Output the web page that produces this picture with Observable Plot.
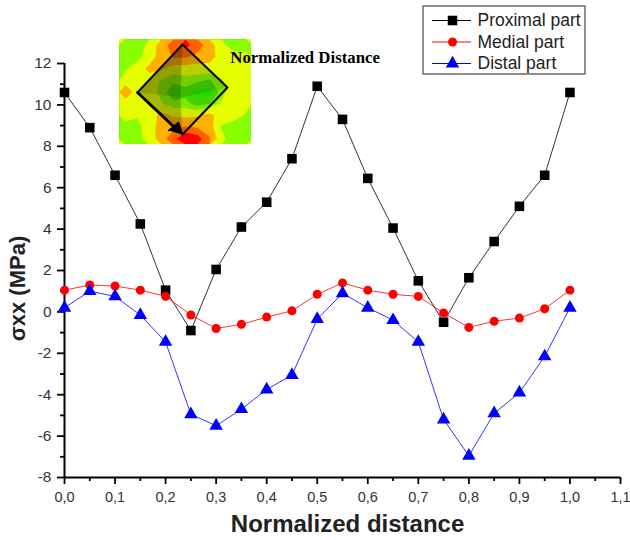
<!DOCTYPE html>
<html>
<head>
<meta charset="utf-8">
<script src="https://cdn.jsdelivr.net/npm/d3@7"></script>
<script src="https://cdn.jsdelivr.net/npm/@observablehq/plot@0.6"></script>
<style>
html,body{margin:0;padding:0;background:#fff;}
#wrap{position:relative;width:630px;height:540px;overflow:hidden;font-family:"Liberation Sans",Arial,sans-serif;}
#wrap svg{position:absolute;background:transparent;}
</style>
</head>
<body>
<div id="wrap"></div>
<script>
const distance = [0,0.05,0.1,0.15,0.2,0.25,0.3,0.35,0.4,0.45,0.5,0.55,0.6,0.65,0.7,0.75,0.8,0.85,0.9,0.95,1];
const proximal = [10.6,8.9,6.6,4.25,1.05,-0.9,2.05,4.1,5.3,7.4,10.9,9.3,6.45,4.05,1.5,-0.5,1.65,3.4,5.1,6.6,10.6];
const medial = [1.05,1.3,1.25,1.05,0.75,-0.15,-0.8,-0.6,-0.25,0.05,0.85,1.4,1.05,0.85,0.75,-0.05,-0.75,-0.45,-0.3,0.15,1.05];
const distal = [0.2,1.0,0.75,-0.15,-1.45,-4.95,-5.5,-4.7,-3.75,-3.05,-0.35,0.9,0.2,-0.4,-1.45,-5.2,-6.95,-4.9,-3.9,-2.15,0.2];
const seriesNames = ["Proximal part","Medial part","Distal part"];
const seriesColors = ["#000000","#ff0000","#0000ff"];
const seriesSymbols = ["square","circle","triangle"];
const seriesRadii = [5.4,4.5,5];
const xMajor = [0,0.1,0.2,0.3,0.4,0.5,0.6,0.7,0.8,0.9,1,1.1];
const xMinor = [0.05,0.15,0.25,0.35,0.45,0.55,0.65,0.75,0.85,0.95,1.05];
const yMajor = [-8,-6,-4,-2,0,2,4,6,8,10,12];
const yMinor = [-7,-5,-3,-1,1,3,5,7,9,11];

// Inset stress map
const insetCols = 11, insetRows = 9;
const insetField = [
 2,2,2.8,4,5,5.8,5,4,2.8,2,2,
 2,2.2,3,4,4.6,4.6,4.2,4,3,3,3,
 2.4,3,3.8,3.6,3,3,3,3,3,3,3,
 3,3,3,2.4,2,2.2,2,1.7,2.4,3,3,
 4.2,3,3,2.2,1.2,1.5,0.6,0.6,2.2,3,3,
 3,3,3,2.6,2,2.1,1.4,1.8,2.6,3,3,
 3,2.6,3,3.8,3.4,3.2,3.4,3.8,3,3,2.4,
 2,2.2,3,4,4.2,4.6,4.4,4,2.4,2,2,
 2,2.2,3,4,5.2,6.4,6,4.6,2.8,2,2
];
const insetLevels = [-1,1,1.8,2.5,3.5,4.5,5.5];
const insetColors = ["#22f000","#44e800","#88ff00","#e6ff00","#ffb000","#ff6000","#ff0000"];
const diamondX = [63,108,63,18,63], diamondY = [5,48,95,53,5];
const facets = [
 {xs:[18,63,61],ys:[53,5,58],o:0.42},
 {xs:[63,108,61],ys:[5,48,58],o:0.22},
 {xs:[18,61,63],ys:[53,58,95],o:0.32},
 {xs:[61,108,63],ys:[58,48,95],o:0.10}
];
const arrowHeadX = [49,59,63], arrowHeadY = [91,83,95];

const wrap = document.getElementById("wrap");
const inset = Plot.plot({
  width:132,height:105,margin:0,
  x:{domain:[0,132],range:[0,132],axis:null},
  y:{domain:[0,105],range:[0,105],axis:null},
  color:{type:"ordinal",domain:insetLevels,range:insetColors},
  marks:[
    Plot.rect([0],{x1:0,x2:132,y1:0,y2:105,fill:"#e6ff00"}),
    Plot.contour(insetField,{width:insetCols,height:insetRows,x1:0,y1:0,x2:132,y2:105,value:Plot.identity,fill:"value",thresholds:insetLevels,stroke:"none"}),
    ...facets.map(f=>Plot.line(f.xs.map((x,i)=>({x,y:f.ys[i]})),{x:"x",y:"y",fill:"#202000",fillOpacity:f.o,stroke:"none"})),
    Plot.line(diamondX.map((x,i)=>({x,y:diamondY[i]})),{x:"x",y:"y",stroke:"#000",strokeWidth:2}),
    Plot.line([[18,53],[55,88]],{x:"0",y:"1",stroke:"#000",strokeWidth:2.8}),
    Plot.line(arrowHeadX.map((x,i)=>({x,y:arrowHeadY[i]})),{x:"x",y:"y",fill:"#000",stroke:"#000"})
  ]
});
inset.style.left="119px"; inset.style.top="39px";
wrap.appendChild(inset);

const rows = s => distance.map((x,i)=>({x,y:s[i]}));
const series = [proximal,medial,distal];
const main = Plot.plot({
  width:630,height:540,
  marginLeft:64,marginRight:10,marginTop:63,marginBottom:63,
  style:{background:"transparent",fontFamily:"'Liberation Sans',Arial,sans-serif"},
  x:{domain:[0,1.1]},
  y:{domain:[-8,12]},
  marks:[
    Plot.axisX(xMajor,{tickSize:7,tickPadding:7,strokeWidth:1.8,stroke:"#000",fill:"#333",fontSize:14.5,label:null,tickFormat:d=>d3.format(".1f")(d).replace(".",",")}),
    Plot.axisX(xMinor,{tickSize:4,strokeWidth:1.8,stroke:"#000",label:null,tickFormat:()=>""}),
    Plot.axisY(yMajor,{tickSize:7,tickPadding:6,strokeWidth:1.8,stroke:"#000",fill:"#333",fontSize:15.5,label:null,tickFormat:d=>String(d)}),
    Plot.axisY(yMinor,{tickSize:4,strokeWidth:1.8,stroke:"#000",label:null,tickFormat:()=>""}),
    Plot.ruleX([0],{stroke:"#000",strokeWidth:2}),
    Plot.ruleY([-8],{stroke:"#000",strokeWidth:2}),
    ...series.flatMap((s,i)=>[
      Plot.line(rows(s),{x:"x",y:"y",stroke:seriesColors[i],strokeWidth:1,strokeOpacity:0.8,clip:false}),
      Plot.dot(rows(s),{x:"x",y:"y",symbol:()=>seriesSymbols[i],r:seriesRadii[i],fill:seriesColors[i],stroke:"none"})
    ]),
    Plot.text(["Normalized Distance"],{x:0.328,y:12.3,textAnchor:"start",fontFamily:"'Liberation Serif',serif",fontWeight:"bold",fontSize:16.8,letterSpacing:"0.15px",fill:"#000"}),
    Plot.text(["Normalized distance"],{frameAnchor:"bottom",dy:54,fontWeight:"bold",fontSize:24,fill:"#222",letterSpacing:"1.2px",x:0.56}),
    Plot.text(["σxx (MPa)"],{frameAnchor:"left",textAnchor:"middle",dx:-47,dy:18,rotate:-90,fontWeight:"bold",fontSize:22,letterSpacing:"1px",fill:"#222"})
  ]
});
main.style.left="0"; main.style.top="0";
wrap.appendChild(main);

const legendRows = seriesNames.map((name,i)=>({name,row:i}));
const legend = Plot.plot({
  width:164,height:70,margin:0,
  style:{background:"#fff",fontFamily:"'Liberation Sans',Arial,sans-serif"},
  x:{domain:[0,164],range:[0,164],axis:null},
  y:{domain:[0,70],range:[0,70],axis:null},
  marks:[
    Plot.rect([0],{x1:1,x2:163,y1:1,y2:69,fill:"#fff",stroke:"#444",strokeWidth:1.2}),
    ...legendRows.flatMap(d=>[
      Plot.ruleY([15+d.row*21.5],{x1:10,x2:49,stroke:seriesColors[d.row],strokeWidth:1}),
      Plot.dot([0],{x:()=>30,y:()=>15+d.row*21.5,symbol:()=>seriesSymbols[d.row],r:seriesRadii[d.row],fill:seriesColors[d.row],stroke:"none"}),
      Plot.text([d.name],{x:()=>55,y:()=>15+d.row*21.5,textAnchor:"start",fontSize:17.5,fill:"#222"})
    ])
  ]
});
legend.style.left="422px"; legend.style.top="5px";
wrap.appendChild(legend);
</script>
</body>
</html>
